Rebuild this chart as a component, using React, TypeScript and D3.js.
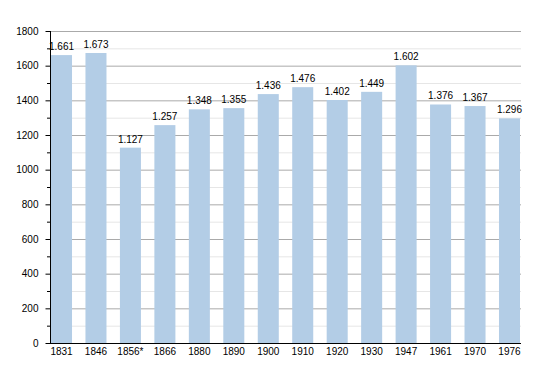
import { useEffect, useRef } from "react";
import * as d3 from "d3";

const years = ["1831", "1846", "1856*", "1866", "1880", "1890", "1900", "1910", "1920", "1930", "1947", "1961", "1970", "1976"];
const population = [1661, 1673, 1127, 1257, 1348, 1355, 1436, 1476, 1402, 1449, 1602, 1376, 1367, 1296];
const majorTicks = [0, 200, 400, 600, 800, 1000, 1200, 1400, 1600, 1800];
const minorTicks = [100, 300, 500, 700, 900, 1100, 1300, 1500, 1700];

const width = 550;
const height = 373;

export default function App() {
  const svgRef = useRef<SVGSVGElement>(null);

  useEffect(() => {
    if (!svgRef.current) return;
    const svg = d3.select(svgRef.current);
    svg.selectAll("*").remove();

    const left = 50;
    const right = 521;
    const top = 31;
    const bottom = 343;
    const font = "Liberation Sans, Arial, sans-serif";

    const x = d3.scaleBand<string>()
      .domain(years)
      .range([left + 1, right - 1])
      .paddingInner(0.39)
      .paddingOuter(0);

    const y = d3.scaleLinear().domain([0, 1800]).range([bottom, top]);

    // minor grid
    svg.append("g").selectAll("line")
      .data(minorTicks)
      .join("line")
      .attr("x1", left).attr("x2", right)
      .attr("y1", d => y(d) + 0.5).attr("y2", d => y(d) + 0.5)
      .attr("stroke", "#e6e6e6");

    // major grid
    svg.append("g").selectAll("line")
      .data(majorTicks.filter(d => d > 0))
      .join("line")
      .attr("x1", left).attr("x2", right)
      .attr("y1", d => y(d) + 0.5).attr("y2", d => y(d) + 0.5)
      .attr("stroke", "#aaaaaa");

    // bars
    svg.append("g").selectAll("rect")
      .data(population)
      .join("rect")
      .attr("x", (_, i) => x(years[i]) as number)
      .attr("y", d => y(d))
      .attr("width", x.bandwidth())
      .attr("height", d => bottom - y(d))
      .attr("fill", "#b3cde6");

    // value labels
    svg.append("g").selectAll("text")
      .data(population)
      .join("text")
      .attr("x", (_, i) => (x(years[i]) as number) + x.bandwidth() / 2)
      .attr("y", d => y(d) - 5)
      .attr("text-anchor", "middle")
      .attr("font-family", font)
      .attr("font-size", "10px")
      .attr("fill", "#000")
      .text(d => d3.format(",")(d).replace(",", "."));

    // y axis
    const yAxis = d3.axisLeft(y).tickValues(majorTicks).tickSize(5).tickPadding(7).tickFormat(d3.format("d"));
    const gy = svg.append("g")
      .attr("transform", `translate(${left + 0.5},0)`)
      .call(yAxis);
    gy.select(".domain").remove();
    gy.selectAll("text").attr("font-family", font).attr("font-size", "10px").attr("fill", "#000");
    gy.selectAll("line").attr("stroke", "#000");

    svg.append("g").selectAll("line")
      .data(minorTicks)
      .join("line")
      .attr("x1", left - 3).attr("x2", left)
      .attr("y1", d => y(d) + 0.5).attr("y2", d => y(d) + 0.5)
      .attr("stroke", "#000");

    svg.append("line")
      .attr("x1", left + 0.5).attr("x2", left + 0.5)
      .attr("y1", top).attr("y2", bottom + 1)
      .attr("stroke", "#000");

    // x axis
    const xAxis = d3.axisBottom(x).tickSize(0).tickPadding(4);
    const gx = svg.append("g")
      .attr("transform", `translate(0,${bottom + 0.5})`)
      .call(xAxis);
    gx.select(".domain").remove();
    gx.selectAll("text").attr("font-family", font).attr("font-size", "10px").attr("fill", "#000");

    svg.append("line")
      .attr("x1", left).attr("x2", right)
      .attr("y1", bottom + 0.5).attr("y2", bottom + 0.5)
      .attr("stroke", "#000");
  }, []);

  return (
    <svg
      ref={svgRef}
      width={width}
      height={height}
      viewBox={`0 0 ${width} ${height}`}
      style={{ position: "absolute", left: 0, top: 0, background: "#fff" }}
    />
  );
}
